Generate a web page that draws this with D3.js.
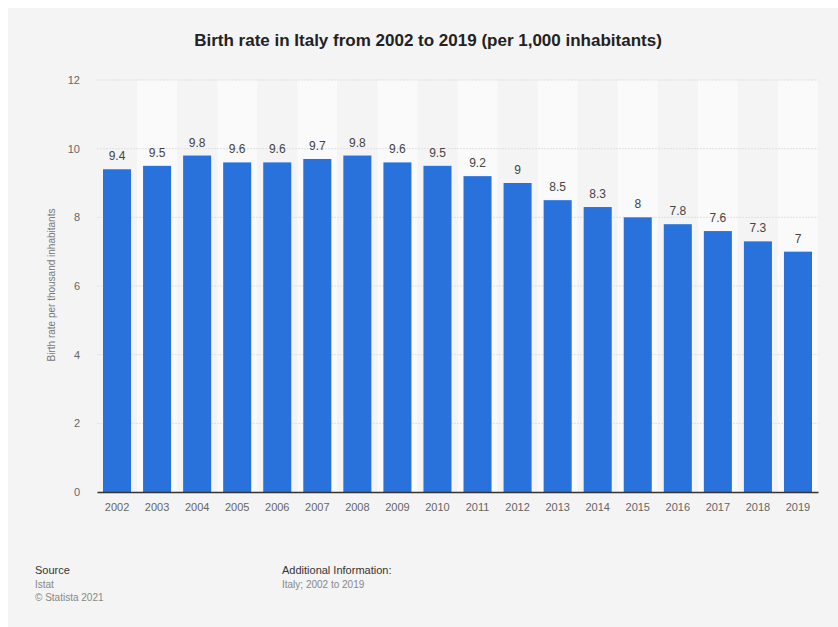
<!DOCTYPE html>
<html>
<head>
<meta charset="utf-8">
<script src="https://cdn.jsdelivr.net/npm/d3@7"></script>
<style>
  body { margin: 0; background: #ffffff; }
  text { font-family: "Liberation Sans", Arial, sans-serif; }
</style>
</head>
<body>
<div id="chart"></div>
<script>
// Birth rate in Italy, per 1,000 inhabitants
const years = ["2002", "2003", "2004", "2005", "2006", "2007", "2008", "2009", "2010",
               "2011", "2012", "2013", "2014", "2015", "2016", "2017", "2018", "2019"];
const rates = [9.4, 9.5, 9.8, 9.6, 9.6, 9.7, 9.8, 9.6, 9.5,
               9.2, 9, 8.5, 8.3, 8, 7.8, 7.6, 7.3, 7];
const yTicks = [0, 2, 4, 6, 8, 10, 12];

const width = 838, height = 627;
const margin = { top: 80, right: 20, bottom: 135, left: 97 };

const svg = d3.select("#chart")
    .append("svg")
    .attr("width", width)
    .attr("height", height);

// grey panel with a thin white edge top/left
svg.append("rect")
    .attr("x", 8)
    .attr("y", 8)
    .attr("width", width - 8)
    .attr("height", height - 8)
    .attr("fill", "#f4f4f4");

const x = d3.scaleBand()
    .domain(years)
    .range([margin.left, width - margin.right])
    .paddingInner(0.3)
    .paddingOuter(0.15);

const y = d3.scaleLinear()
    .domain([0, 12])
    .range([height - margin.bottom, margin.top]);

// alternating column stripes
const step = x.step();
svg.append("g")
    .selectAll("rect")
    .data(years.filter((d, i) => i % 2 === 1))
    .enter().append("rect")
    .attr("x", d => x(d) + x.bandwidth() / 2 - step / 2)
    .attr("y", y(12))
    .attr("width", step)
    .attr("height", y(0) - y(12))
    .attr("fill", "#fafafa");

// gridlines
svg.append("g")
    .selectAll("line")
    .data(yTicks.filter(d => d > 0))
    .enter().append("line")
    .attr("x1", margin.left)
    .attr("x2", width - margin.right)
    .attr("y1", d => y(d))
    .attr("y2", d => y(d))
    .attr("stroke", "#e0e0e0")
    .attr("stroke-width", 1)
    .attr("stroke-dasharray", "2,1");

// y tick labels
svg.append("g")
    .selectAll("text")
    .data(yTicks)
    .enter().append("text")
    .attr("x", 80)
    .attr("y", d => y(d) + 4)
    .attr("text-anchor", "end")
    .style("font-size", "11px")
    .style("fill", "#666")
    .text(d => d);

// bars
svg.append("g")
    .selectAll("rect")
    .data(years)
    .enter().append("rect")
    .attr("x", d => x(d))
    .attr("y", (d, i) => y(rates[i]))
    .attr("width", x.bandwidth())
    .attr("height", (d, i) => y(0) - y(rates[i]))
    .attr("fill", "#2a72db");

// value labels
svg.append("g")
    .selectAll("text")
    .data(years)
    .enter().append("text")
    .attr("x", d => x(d) + x.bandwidth() / 2)
    .attr("y", (d, i) => y(rates[i]) - 9)
    .attr("text-anchor", "middle")
    .style("font-size", "12px")
    .style("fill", "#444")
    .text((d, i) => rates[i]);

// x axis
const xAxis = svg.append("g")
    .attr("transform", `translate(0,${y(0)})`)
    .call(d3.axisBottom(x).tickSize(0).tickPadding(11));
xAxis.select(".domain").attr("stroke", "#333").attr("stroke-width", 1.5);
xAxis.selectAll("text")
    .style("font-size", "11px")
    .style("font-family", "Liberation Sans, Arial, sans-serif")
    .style("fill", "#666");

// title
svg.append("text")
    .attr("x", 428)
    .attr("y", 46)
    .attr("text-anchor", "middle")
    .style("font-size", "17px")
    .style("font-weight", "bold")
    .style("fill", "#222")
    .text("Birth rate in Italy from 2002 to 2019 (per 1,000 inhabitants)");

// y axis title
svg.append("text")
    .attr("transform", "rotate(-90)")
    .attr("x", -285)
    .attr("y", 55)
    .attr("text-anchor", "middle")
    .style("font-size", "10px")
    .style("fill", "#777")
    .text("Birth rate per thousand inhabitants");

// footer
const foot = [
    { x: 35, y: 574, t: "Source", c: "#333" },
    { x: 35, y: 588, t: "Istat", c: "#888" },
    { x: 35, y: 601, t: "© Statista 2021", c: "#888" },
    { x: 282, y: 574, t: "Additional Information:", c: "#333" },
    { x: 282, y: 588, t: "Italy; 2002 to 2019", c: "#888" }
];
svg.append("g")
    .selectAll("text")
    .data(foot)
    .enter().append("text")
    .attr("x", d => d.x)
    .attr("y", d => d.y)
    .style("font-size", d => d.c === "#333" ? "11px" : "10px")
    .style("fill", d => d.c)
    .text(d => d.t);
</script>
</body>
</html>
